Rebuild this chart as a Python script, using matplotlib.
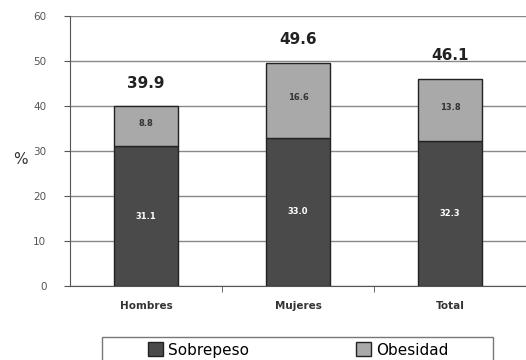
import matplotlib
matplotlib.use('Agg')
import matplotlib.pyplot as plt
from matplotlib.patches import Rectangle
import numpy as np

# Data
categorias = ['Hombres', 'Mujeres', 'Total']
sobrepeso = [31.1, 33.0, 32.3]
obesidad = [8.8, 16.6, 13.8]
totales = [39.9, 49.6, 46.1]
yticks = [0, 10, 20, 30, 40, 50, 60]

color_sobre = '#4a4a4a'
color_obes = '#a9a9a9'

fig = plt.figure(figsize=(5.26, 3.6), dpi=100)
ax = fig.add_axes([70 / 526, 1 - 286 / 360, 1 - 70 / 526, 270 / 360])

x = np.arange(len(categorias))
w = 0.415
b1 = ax.bar(x, sobrepeso, w, color=color_sobre, edgecolor='#222222', linewidth=1.0,
            label='Sobrepeso', zorder=3)
b2 = ax.bar(x, obesidad, w, bottom=sobrepeso, color=color_obes, edgecolor='#222222',
            linewidth=1.0, label='Obesidad', zorder=3)

# Value labels inside and above bars
for xi, s, o, t in zip(x, sobrepeso, obesidad, totales):
    ax.text(xi, s / 2, f'{s:.1f}', ha='center', va='center', color='white',
            fontsize=6, fontweight='bold', zorder=4)
    ax.text(xi, s + o / 2 + 0.5, f'{o:.1f}', ha='center', va='center', color='#333333',
            fontsize=6, fontweight='bold', zorder=4)
    ax.text(xi, t + 3.5, f'{t:.1f}', ha='center', va='bottom',
            color='#222222', fontsize=11, fontweight='bold', zorder=4)

ax.set_xlim(-0.5, 2.5)
ax.set_ylim(0, 60)
ax.set_yticks(yticks)
ax.yaxis.grid(True, color='#888888', linewidth=1.0, zorder=0)
ax.set_axisbelow(True)

for side in ['top', 'right']:
    ax.spines[side].set_visible(False)
ax.spines['left'].set_color('#555555')
ax.spines['bottom'].set_color('#555555')

ax.set_xticks(x)
ax.set_xticklabels(categorias, fontsize=7.5, fontweight='bold', color='#333333')
ax.set_xticks([0.5, 1.5], minor=True)
ax.tick_params(axis='x', which='major', length=0, pad=11)
ax.tick_params(axis='x', which='minor', length=4, color='#555555', direction='out')
ax.tick_params(axis='y', labelsize=7.5, labelcolor='#555555', length=4, color='#555555', pad=13)

fig.text(20 / 526, 1 - 160 / 360, '%', fontsize=11, color='#333333', ha='center', va='center')

# Legend frame runs past the bottom edge, as in the original
fig.patches.append(Rectangle((102 / 526, -0.05), 391 / 526, 0.05 + 23 / 360,
                             transform=fig.transFigure, facecolor='white',
                             edgecolor='#777777', linewidth=1.0))
leg = fig.legend(handles=[b1, b2], labels=['Sobrepeso', 'Obesidad'], ncol=2,
                 loc='center', bbox_to_anchor=(298 / 526, 1 - 350 / 360),
                 fontsize=11, frameon=False, columnspacing=7.0,
                 handlelength=1.0, handleheight=1.0, handletextpad=0.3,
                 borderaxespad=0, borderpad=0)
for h in leg.legend_handles:
    h.set_edgecolor('#222222')

fig.savefig('out.png', dpi=100)
